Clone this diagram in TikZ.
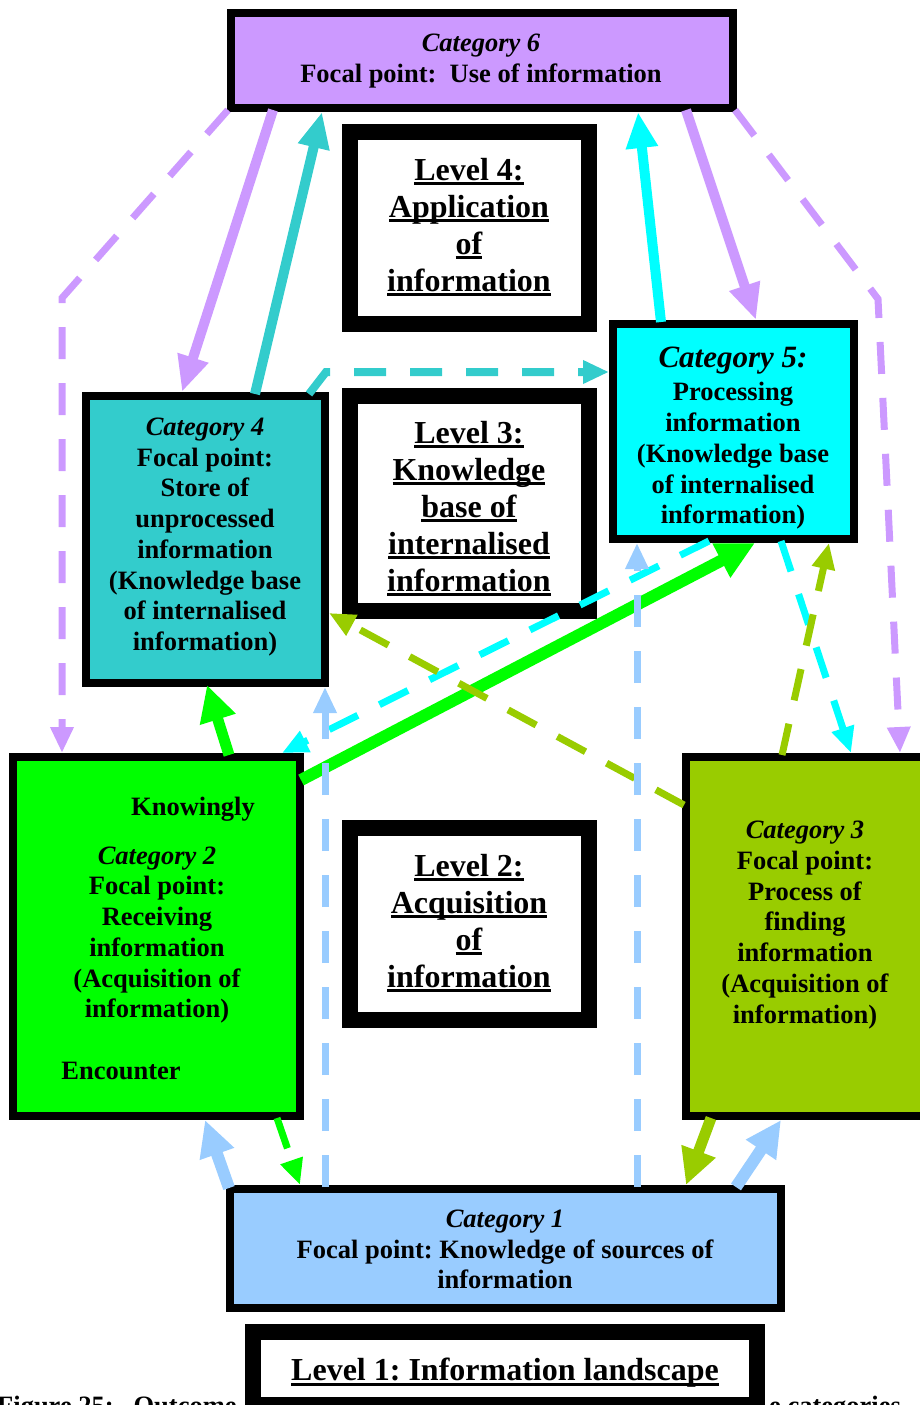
\documentclass[tikz,border=0pt]{standalone}
\usepackage{fontspec}
\setmainfont{Liberation Serif}
\usetikzlibrary{arrows.meta}
\frenchspacing

\definecolor{cpurple}{HTML}{CC99FF}
\definecolor{cteal}{HTML}{33CCCC}
\definecolor{ccyan}{HTML}{00FFFF}
\definecolor{cgreen}{HTML}{00FF00}
\definecolor{colive}{HTML}{99CC00}
\definecolor{cblue}{HTML}{99CCFF}

\newcommand\boxtextfont{\fontsize{26.5pt}{30.7pt}\selectfont\bfseries}
\newcommand\leveltextfont{\fontsize{32pt}{37pt}\selectfont\bfseries}
\newsavebox\ulinebox
\newcommand\uline[1]{\sbox\ulinebox{#1}\rlap{\rule[-5pt]{\wd\ulinebox}{3pt}}\usebox\ulinebox}

\tikzset{
  catbox/.style={rectangle, draw=black, line width=8pt, inner sep=0pt},
  lvlbox/.style={rectangle, draw=black, fill=white, line width=16pt, inner sep=0pt},
  cattext/.style={align=center, font=\boxtextfont, inner sep=0pt},
  lvltext/.style={align=center, font=\leveltextfont, inner sep=0pt},
  solidarrow/.style={line width=10pt, -{Triangle[length=36pt,width=30pt]}},
  dasharrow/.style={line width=7pt, dash pattern=on 32pt off 24pt,
                    -{Triangle[length=26pt,width=22pt]}},
}

\begin{document}
\begin{tikzpicture}[x=1pt,y=-1pt]
\useasboundingbox (0,0) rectangle (919,1405);

% caption line, partly hidden
\node[anchor=base west, font=\boxtextfont, inner sep=0pt] (capl) at (-3,1414) {Figure 25:\ \ \ Outcome};
\node[anchor=base west, font=\boxtextfont, inner sep=0pt] (capr) at (769,1414) {e categories};

% category boxes
\node[catbox, fill=cpurple, minimum width=502pt, minimum height=95pt]  (c6) at (482,60.5) {};
\node[catbox, fill=ccyan,   minimum width=241pt, minimum height=215pt] (c5) at (733.5,431.5) {};
\node[catbox, fill=cteal,   minimum width=239pt, minimum height=287pt] (c4) at (205.5,539.5) {};
\node[catbox, fill=cgreen,  minimum width=287pt, minimum height=359pt] (c2) at (156.5,936.5) {};
\node[catbox, fill=colive,  minimum width=238pt, minimum height=359pt] (c3) at (805,936.5) {};
\node[catbox, fill=cblue,   minimum width=551pt, minimum height=119pt] (c1) at (505.5,1248.5) {};

% level boxes
\node[lvlbox, minimum width=239pt, minimum height=192pt] (l4) at (469.5,228) {};
\node[lvlbox, minimum width=239pt, minimum height=215pt] (l3) at (469.5,503.5) {};
\node[lvlbox, minimum width=239pt, minimum height=192pt] (l2) at (469.5,924) {};
\node[lvlbox, minimum width=504pt, minimum height=73pt]  (l1) at (505,1368.5) {};

% category texts
\node[cattext] (t6) at (481,61) {\textit{Category 6}\\Focal point:\ \ Use of information};
\node[cattext, font=\fontsize{31pt}{34pt}\selectfont\bfseries\itshape] (t5a) at (733,361) {Category 5:};
\node[cattext] (t5b) at (733,456) {Processing\\information\\(Knowledge base\\of internalised\\information)};
\node[cattext] (t4) at (205,537) {\textit{Category 4}\\Focal point:\\Store of\\unprocessed\\information\\(Knowledge base\\of internalised\\information)};
\node[cattext] (t2k) at (193,809) {Knowingly};
\node[cattext] (t2) at (157,935) {\textit{Category 2}\\Focal point:\\Receiving\\information\\(Acquisition of\\information)};
\node[cattext] (t2e) at (121,1071) {Encounter};
\node[cattext] (t3) at (805,925) {\textit{Category 3}\\Focal point:\\Process of\\finding\\information\\(Acquisition of\\information)};
\node[cattext] (t1) at (505,1249.5) {\textit{Category 1}\\Focal point: Knowledge of sources of\\information};

% level texts
\node[lvltext] (tl4) at (469,227) {\uline{Level 4:}\\\uline{Application}\\\uline{of}\\\uline{information}};
\node[lvltext] (tl3) at (469,508.5) {\uline{Level 3:}\\\uline{Knowledge}\\\uline{base of}\\\uline{internalised}\\\uline{information}};
\node[lvltext] (tl2) at (469,923) {\uline{Level 2:}\\\uline{Acquisition}\\\uline{of}\\\uline{information}};
\node[lvltext] (tl1) at (505,1373) {\uline{Level 1: Information landscape}};

% bend points of the long dashed links
\coordinate (pl) at (62,298);
\coordinate (pr) at (878,299);
\coordinate (tk) at (326,372);

% links around category 6
\draw[solidarrow, cpurple] ([xshift=-209pt,yshift=2pt]c6.south) -- ([xshift=-23.5pt]c4.north);
\draw[solidarrow, cteal] ([xshift=49.5pt,yshift=-2pt]c4.north) -- ([xshift=-160pt]c6.south);
\draw[solidarrow, ccyan] ([xshift=-72.5pt,yshift=-2pt]c5.north) -- ([xshift=156pt]c6.south);
\draw[solidarrow, cpurple] ([xshift=204pt,yshift=2pt]c6.south) -- ([xshift=22.5pt]c5.north);
\draw[dasharrow, cpurple] ([xshift=1pt,yshift=2pt]c6.south west) -- (pl) -- ([xshift=53pt]c2.north west);
\draw[dasharrow, cpurple] ([xshift=-2pt,yshift=2pt]c6.south east) -- (pr) -- ([xshift=95pt]c3.north);

% links between the middle boxes
\draw[dasharrow, cteal, line width=8pt] ([xshift=-20pt,yshift=-2pt]c4.north east) -- (tk) -- ([yshift=59.5pt]c5.west);
\draw[dasharrow, ccyan] ([xshift=-24.5pt,yshift=2pt]c5.south) -- ([xshift=-22pt]c2.north east);
\draw[line width=12pt, cgreen, -{Triangle[length=38pt,width=36pt]}] ([xshift=-3pt,yshift=-27pt]c2.north east) -- ([xshift=21.5pt]c5.south);
\draw[dasharrow, ccyan] ([xshift=47.5pt,yshift=2pt]c5.south) -- ([xshift=46pt]c3.north);
\draw[dasharrow, colive] ([xshift=-23pt,yshift=-2pt]c3.north) -- ([xshift=95.5pt]c5.south);
\draw[dasharrow, colive] ([xshift=2pt,yshift=-52pt]c3.north west) -- ([yshift=-73.5pt]c4.east);
\draw[cgreen, line width=11pt, -{Triangle[length=36pt,width=35pt]}] ([xshift=72.5pt,yshift=-2pt]c2.north) -- ([xshift=1.5pt,yshift=2pt]c4.south);

% links from category 1
\draw[dasharrow, cblue] ([xshift=99pt,yshift=-2pt]c1.north west) -- ([xshift=-4pt]c4.south east);
\draw[dasharrow, cblue] ([xshift=131.5pt,yshift=-2pt]c1.north) -- ([xshift=-96.5pt]c5.south);
\draw[cblue, line width=12pt, -{Triangle[length=36pt,width=34pt]}] ([xshift=3pt,yshift=-3pt]c1.north west) -- ([xshift=48.5pt]c2.south);
\draw[dasharrow, cgreen] ([xshift=120.5pt,yshift=2pt]c2.south) -- ([xshift=74pt]c1.north west);
\draw[colive, line width=11pt, -{Triangle[length=36pt,width=34pt]}] ([xshift=-94pt,yshift=2pt]c3.south) -- ([xshift=180.5pt]c1.north);
\draw[cblue, line width=12pt, -{Triangle[length=36pt,width=34pt]}] ([xshift=230.5pt,yshift=-2pt]c1.north) -- ([xshift=-24pt]c3.south);
\end{tikzpicture}
\end{document}
